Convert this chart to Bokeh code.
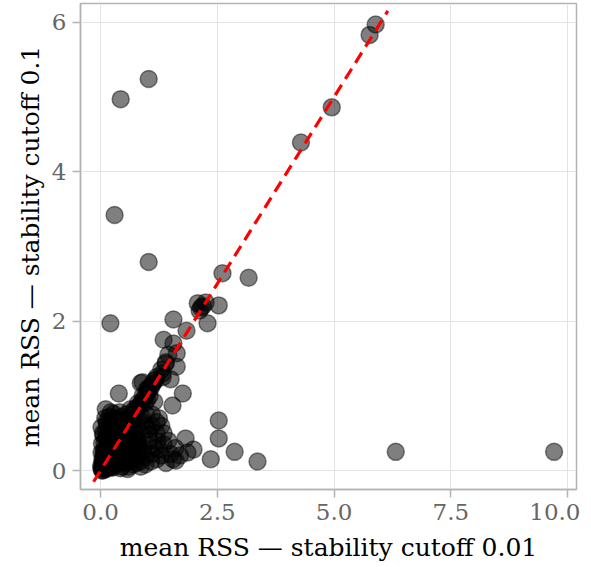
from bokeh.plotting import figure
from bokeh.models import FixedTicker, CustomJSTickFormatter, ColumnDataSource
from bokeh.embed import file_html
from bokeh.resources import INLINE

# mean RSS at stability cutoff 0.01 (x) and 0.1 (y)
x_outer = [1.03, 0.43, 0.30, 1.03, 0.21, 4.29, 4.95, 5.76, 5.89, 2.61, 3.17, 2.53,
           2.29, 2.08, 2.19, 2.25, 2.12, 2.15, 1.56, 1.84, 1.35, 1.56, 1.63, 1.39,
           1.63, 1.33, 1.50, 0.86, 1.01, 1.76, 1.54, 0.39, 0.90, 1.33, 0.11, 0.28,
           1.35, 1.82, 1.99, 1.61, 1.86, 2.36, 2.53, 2.53, 2.87, 3.36, 6.32, 9.71]
y_outer = [5.24, 4.97, 3.42, 2.79, 1.97, 4.39, 4.86, 5.83, 5.97, 2.64, 2.58, 2.21,
           1.97, 2.24, 2.20, 2.25, 2.14, 2.18, 2.02, 1.87, 1.75, 1.70, 1.57, 1.43,
           1.39, 1.30, 1.22, 1.17, 1.10, 1.03, 0.87, 1.03, 1.18, 1.25, 0.82, 0.76,
           0.50, 0.43, 0.28, 0.13, 0.24, 0.15, 0.67, 0.43, 0.25, 0.12, 0.25, 0.25]

x_dense = [0.02, 0.05, 0.08, 0.10, 0.04, 0.12, 0.15, 0.18, 0.06, 0.10, 0.20, 0.25,
           0.22, 0.30, 0.28, 0.35, 0.32, 0.15, 0.08, 0.05, 0.12, 0.20, 0.25, 0.18,
           0.10, 0.30, 0.35, 0.40, 0.42, 0.45, 0.38, 0.40, 0.45, 0.50, 0.50, 0.55,
           0.55, 0.60, 0.50, 0.45, 0.55, 0.62, 0.65, 0.70, 0.70, 0.72, 0.68, 0.75,
           0.80, 0.80, 0.85, 0.78, 0.85, 0.90, 0.92, 0.95, 1.00, 1.05, 1.10, 1.15,
           0.88, 0.98, 1.20, 1.25, 1.30, 1.35, 1.10, 1.20, 1.25, 1.05, 0.95, 1.15,
           0.30, 0.22, 0.80, 0.90, 1.00, 1.10, 1.20, 0.70, 0.65, 1.30, 1.40, 1.15,
           1.45, 1.10, 1.20, 1.30, 1.00, 1.40, 1.50, 1.45, 1.60, 1.70, 1.55, 0.60,
           0.03, 0.07, 0.14, 0.24, 0.33, 0.48, 0.58, 0.66, 0.76, 0.86, 0.96, 1.08,
           0.01, 0.04, 0.09, 0.13, 0.17, 0.21, 0.26, 0.31, 0.36, 0.41, 0.46, 0.52,
           0.03, 0.07, 0.11, 0.16, 0.21, 0.27, 0.33, 0.39, 0.44, 0.49, 0.57, 0.63,
           0.02, 0.06, 0.09, 0.14, 0.19, 0.24, 0.29, 0.34, 0.40, 0.47, 0.53, 0.61,
           0.05, 0.10, 0.16, 0.23, 0.28, 0.37, 0.43, 0.52, 0.59, 0.67, 0.74, 0.83,
           0.13, 0.19, 0.26, 0.34, 0.41, 0.48, 0.56, 0.64, 0.71, 0.79, 0.88, 0.97,
           0.04, 0.08, 0.12, 0.17, 0.22, 0.27, 0.32, 0.37, 0.42, 0.47, 0.52, 0.57,
           0.62, 0.67, 0.72, 0.77, 0.82, 0.87, 0.92, 0.97, 1.02, 1.07, 1.12, 1.17,
           0.06, 0.11, 0.15, 0.20, 0.26, 0.31, 0.35, 0.44, 0.51, 0.58, 0.69, 0.81,
           0.02, 0.09, 0.18, 0.25, 0.34, 0.43, 0.54, 0.65, 0.74, 0.90, 1.04, 1.22]
y_dense = [0.03, 0.08, 0.05, 0.12, 0.15, 0.02, 0.10, 0.20, 0.25, 0.30, 0.05, 0.15,
           0.28, 0.08, 0.35, 0.20, 0.40, 0.42, 0.38, 0.50, 0.55, 0.50, 0.60, 0.65,
           0.70, 0.55, 0.48, 0.30, 0.12, 0.05, 0.60, 0.45, 0.55, 0.40, 0.25, 0.10,
           0.50, 0.62, 0.68, 0.72, 0.75, 0.30, 0.15, 0.08, 0.45, 0.70, 0.55, 0.82,
           0.35, 0.20, 0.12, 0.60, 0.88, 0.65, 0.30, 0.18, 0.95, 0.40, 0.22, 0.30,
           0.50, 0.75, 0.15, 0.28, 0.20, 0.35, 0.60, 0.50, 0.70, 1.00, 0.90, 0.92,
           0.70, 0.78, 0.90, 1.00, 1.08, 1.15, 1.25, 0.80, 0.72, 1.35, 1.45, 1.20,
           1.55, 0.75, 0.65, 0.60, 0.55, 0.10, 0.22, 0.40, 0.30, 0.20, 0.15, 0.05,
           0.00, 0.02, 0.06, 0.04, 0.10, 0.18, 0.02, 0.25, 0.10, 0.05, 0.08, 0.12,
           0.06, 0.11, 0.03, 0.21, 0.09, 0.33, 0.04, 0.23, 0.13, 0.36, 0.19, 0.28,
           0.36, 0.22, 0.44, 0.32, 0.15, 0.46, 0.27, 0.52, 0.34, 0.17, 0.42, 0.23,
           0.58, 0.47, 0.27, 0.62, 0.40, 0.07, 0.57, 0.45, 0.20, 0.64, 0.35, 0.47,
           0.00, 0.17, 0.04, 0.40, 0.12, 0.52, 0.03, 0.32, 0.66, 0.14, 0.36, 0.27,
           0.66, 0.72, 0.48, 0.63, 0.78, 0.38, 0.70, 0.82, 0.66, 0.42, 0.72, 0.60,
           0.05, 0.09, 0.14, 0.18, 0.24, 0.29, 0.33, 0.39, 0.43, 0.49, 0.54, 0.59,
           0.65, 0.69, 0.76, 0.80, 0.86, 0.90, 0.96, 1.00, 1.06, 1.10, 1.16, 1.21,
           0.14, 0.04, 0.26, 0.09, 0.37, 0.16, 0.45, 0.24, 0.31, 0.19, 0.28, 0.33,
           0.24, 0.20, 0.08, 0.31, 0.26, 0.11, 0.37, 0.17, 0.44, 0.26, 0.49, 0.39]

x_vals = x_outer + x_dense
y_vals = y_outer + y_dense

line_x = [-0.15, 6.15]
line_y = [-0.15, 6.15]

x_ticks = [0, 2.5, 5, 7.5, 10]
y_ticks = [0, 2, 4, 6]

FONT = "DejaVu Serif"
GRAY = "#b3b3b3"

p = figure(width=580, height=564, output_backend="svg", toolbar_location=None,
           x_range=(-0.43, 10.19), y_range=(-0.254, 6.25),
           min_border_left=80, min_border_right=4, min_border_top=3, min_border_bottom=75)

p.background_fill_color = "white"
p.outline_line_color = GRAY
p.outline_line_width = 1.5

for ax in (p.xaxis[0], p.yaxis[0]):
    ax.axis_line_color = GRAY
    ax.axis_line_width = 1.5
    ax.major_tick_line_color = GRAY
    ax.major_tick_line_width = 1.5
    ax.major_tick_out = 8
    ax.major_tick_in = 0
    ax.minor_tick_line_color = None
    ax.major_label_text_font = FONT
    ax.major_label_text_font_size = "23px"
    ax.major_label_text_color = "#666666"
    ax.major_label_standoff = 6
    ax.axis_label_text_font = FONT
    ax.axis_label_text_font_size = "25px"
    ax.axis_label_text_font_style = "normal"
    ax.axis_label_text_color = "black"

p.xaxis.axis_label_standoff = 10
p.yaxis.axis_label_standoff = 4

p.xaxis.ticker = FixedTicker(ticks=x_ticks)
p.yaxis.ticker = FixedTicker(ticks=y_ticks)
p.xaxis.formatter = CustomJSTickFormatter(code="return tick.toFixed(1);")
p.yaxis.formatter = CustomJSTickFormatter(code="return tick.toFixed(0);")
p.xaxis.axis_label = "mean RSS \u2014 stability cutoff 0.01"
p.yaxis.axis_label = "mean RSS \u2014 stability cutoff 0.1"

p.xgrid.grid_line_color = "#e3e3e3"
p.ygrid.grid_line_color = "#e3e3e3"
p.xgrid.grid_line_width = 1
p.ygrid.grid_line_width = 1

src = ColumnDataSource(dict(x=x_vals, y=y_vals))
p.scatter("x", "y", source=src, size=17, fill_color="black", fill_alpha=0.5,
          line_color="black", line_alpha=0.45, line_width=1.5)

p.line(line_x, line_y, line_color="red", line_width=3.2, line_dash="12 7")

open("out.html", "w").write(file_html(p, INLINE))
